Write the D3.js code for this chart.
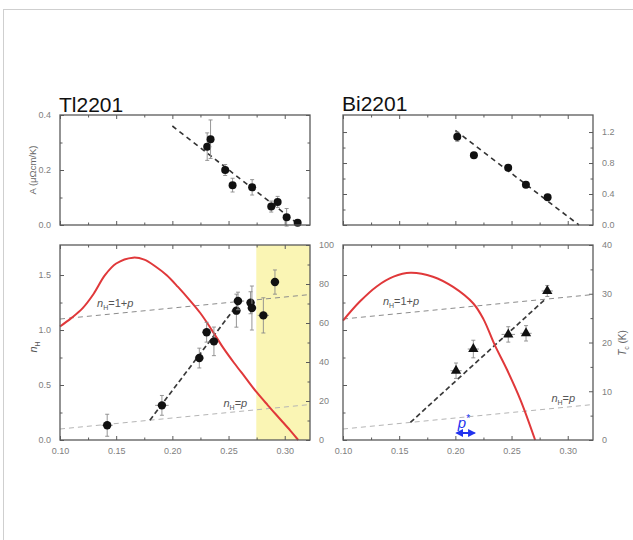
<!DOCTYPE html>
<html><head><meta charset="utf-8">
<script src="https://cdn.jsdelivr.net/npm/d3@7/dist/d3.min.js"></script>
<style>body{margin:0;background:#fff}svg{display:block}</style>
</head><body>
<svg id="c" width="633" height="540"></svg>
<script>
// ---- data ----
const pTicks = [0.10, 0.15, 0.20, 0.25, 0.30];
const pTickLabels = ["0.10", "0.15", "0.20", "0.25", "0.30"];

// Tl2201 A coefficient
const tlA_p   = [0.231, 0.234, 0.247, 0.2536, 0.271, 0.288, 0.2937, 0.3017, 0.3115];
const tlA_val = [0.285, 0.312, 0.200, 0.145, 0.137, 0.067, 0.084, 0.028, 0.008];
const tlA_err = [0.05, 0.07, 0.02, 0.025, 0.028, 0.02, 0.02, 0.032, 0.005];
const tlA_fitP = [0.200, 0.310];
const tlA_fitV = [0.360, 0.010];
const tlA_ticks = [0.0, 0.2, 0.4];

// Bi2201 A coefficient
const biA_p   = [0.2017, 0.2165, 0.247, 0.2628, 0.2821];
const biA_val = [1.14, 0.90, 0.74, 0.52, 0.357];
const biA_err = [0.06, 0.03, 0.03, 0.03, 0.03];
const biA_fitP = [0.200, 0.310];
const biA_fitV = [1.22, 0.00];
const biA_ticks = [0.0, 0.4, 0.8, 1.2];

// Tl2201 n_H
const tlN_p  = [0.142, 0.1907, 0.224, 0.2305, 0.237, 0.257, 0.2584, 0.2696, 0.2708, 0.281, 0.2913];
const tlN_v  = [0.134, 0.315, 0.745, 0.98, 0.897, 1.176, 1.264, 1.248, 1.20, 1.133, 1.436];
const tlN_ey = [0.10, 0.09, 0.09, 0.09, 0.13, 0.15, 0.08, 0.10, 0.20, 0.16, 0.11];
const tlN_ex = [0.005, 0.006, 0.004, 0.004, 0.004, 0.004, 0.004, 0.004, 0.004, 0.005, 0.004];
const tlCrossP = [0.18, 0.26];
const tlCrossN = [0.18, 1.26];
const tlOverdoped = [0.2747, 0.3225];

// Tl2201 Tc dome
const tlTc_p = [0.100, 0.110, 0.120, 0.130, 0.140, 0.150, 0.165, 0.175, 0.185, 0.195, 0.205, 0.215, 0.225, 0.235, 0.245, 0.255, 0.265, 0.275, 0.285, 0.295, 0.305, 0.312];
const tlTc_v = [58.2, 62.5, 67.5, 75, 84.5, 90.5, 93.5, 92.5, 89, 84.5, 78.5, 72, 65, 56.5, 47.5, 39.5, 32, 24.5, 17.8, 11.3, 4.8, 0];

// Bi2201 n_H
const biN_p  = [0.2006, 0.216, 0.2471, 0.2629, 0.2818];
const biN_v  = [0.63, 0.827, 0.96, 0.97, 1.355];
const biN_ey = [0.07, 0.08, 0.07, 0.07, 0.05];
const biN_ex = [0.005, 0.005, 0.006, 0.005, 0.005];
const biCrossP = [0.16, 0.28];
const biCrossN = [0.16, 1.28];

// Bi2201 Tc dome
const biTc_p = [0.100, 0.115, 0.130, 0.145, 0.160, 0.180, 0.198, 0.216, 0.225, 0.235, 0.246, 0.258, 0.271];
const biTc_v = [24.5, 28.4, 31.5, 33.5, 34.3, 33.5, 31.4, 28.0, 24.8, 19.5, 14.4, 8.2, 0];

// p* marker
const pStarRange = [0.2013, 0.217];

// n_H reference lines (value = 1+p and value = p)
const refP = [0.10, 0.3225];
const ref1pN = [1.10, 1.3225];
const refpN  = [0.10, 0.3225];

const nTicks = [0.0, 0.5, 1.0, 1.5];
const tlTcTicks = [0, 20, 40, 60, 80, 100];
const biTcTicks = [0, 10, 20, 30, 40];

// ---- drawing ----
const svg = d3.select("#c");
const FONT = "'Liberation Sans', Arial, sans-serif";
svg.append("rect").attr("x", 3.5).attr("y", 9.5).attr("width", 700).attr("height", 600)
  .attr("fill", "none").attr("stroke", "#cfcfcf");

const P0 = 0.10, P1 = 0.3225;
const xL = d3.scaleLinear().domain([P0, P1]).range([60, 310]);
const xR = d3.scaleLinear().domain([P0, P1]).range([343, 593]);

const TOP0 = 115, TOP1 = 225, BOT0 = 245, BOT1 = 440;
const yTlA = d3.scaleLinear().domain([0, 0.4]).range([TOP1, TOP0]);
const yBiA = d3.scaleLinear().domain([0, 1.42]).range([TOP1, TOP0]);
const yN   = d3.scaleLinear().domain([0, 1.773]).range([BOT1, BOT0]);
const yTlTc = d3.scaleLinear().domain([0, 100]).range([BOT1, BOT0]);
const yBiTc = d3.scaleLinear().domain([0, 40]).range([BOT1, BOT0]);

const axisColor = "#5a5a5a", labColor = "#808080";

function box(x, y) {
  svg.append("rect").attr("x", x.range()[0]).attr("y", y.range()[1])
    .attr("width", x.range()[1] - x.range()[0]).attr("height", y.range()[0] - y.range()[1])
    .attr("fill", "none").attr("stroke", axisColor).attr("stroke-width", 1.3);
}
function styleAxis(g) {
  g.select(".domain").remove();
  g.selectAll(".tick line").attr("stroke", axisColor).attr("stroke-width", 1);
  g.selectAll(".tick text").attr("fill", labColor).style("font-family", FONT).style("font-size", "9px");
}
function minors(ticks) {
  const out = [];
  for (let i = 0; i < ticks.length - 1; i++) out.push((ticks[i] + ticks[i + 1]) / 2);
  return out;
}
function xAxes(x, y, labels) {
  const minorP = minors(pTicks).concat([0.325]).filter(v => v <= P1);
  const b = svg.append("g").attr("transform", `translate(0,${y.range()[0]})`)
    .call(d3.axisBottom(x).tickValues(pTicks).tickSize(-4).tickPadding(8)
      .tickFormat((d, i) => labels ? pTickLabels[i] : ""));
  styleAxis(b);
  const bm = svg.append("g").attr("transform", `translate(0,${y.range()[0]})`)
    .call(d3.axisBottom(x).tickValues(minorP).tickSize(-2.5).tickFormat(""));
  styleAxis(bm);
  const t = svg.append("g").attr("transform", `translate(0,${y.range()[1]})`)
    .call(d3.axisTop(x).tickValues(pTicks).tickSize(-4).tickFormat(""));
  styleAxis(t);
  const tm = svg.append("g").attr("transform", `translate(0,${y.range()[1]})`)
    .call(d3.axisTop(x).tickValues(minorP).tickSize(-2.5).tickFormat(""));
  styleAxis(tm);
}
function yAxis(x, y, ticks, side, labels, fmt) {
  const pos = side === "left" ? x.range()[0] : x.range()[1];
  const mk = side === "left" ? d3.axisLeft : d3.axisRight;
  const g = svg.append("g").attr("transform", `translate(${pos},0)`)
    .call(mk(y).tickValues(ticks).tickSize(-4).tickPadding(9)
      .tickFormat(labels ? fmt : () => ""));
  styleAxis(g);
  const gm = svg.append("g").attr("transform", `translate(${pos},0)`)
    .call(mk(y).tickValues(minors(ticks)).tickSize(-2.5).tickFormat(""));
  styleAxis(gm);
}
function errPoints(x, y, ps, vs, ey, ex, shape, r) {
  const g = svg.append("g");
  ps.forEach((p, i) => {
    const cx = x(p), cy = y(vs[i]);
    const e = ey[i];
    g.append("line").attr("x1", cx).attr("x2", cx).attr("y1", y(vs[i] - e)).attr("y2", y(vs[i] + e))
      .attr("stroke", "#8a8a8a").attr("stroke-width", 0.9);
    [vs[i] - e, vs[i] + e].forEach(v => g.append("line").attr("x1", cx - 2).attr("x2", cx + 2)
      .attr("y1", y(v)).attr("y2", y(v)).attr("stroke", "#8a8a8a").attr("stroke-width", 0.9));
    if (ex) {
      g.append("line").attr("x1", x(p - ex[i])).attr("x2", x(p + ex[i])).attr("y1", cy).attr("y2", cy)
        .attr("stroke", "#8a8a8a").attr("stroke-width", 0.9);
    }
    if (shape === "tri") {
      g.append("path").attr("d", d3.symbol(d3.symbolTriangle, r * r * 2.6)())
        .attr("transform", `translate(${cx},${cy})`).attr("fill", "#111");
    } else {
      g.append("circle").attr("cx", cx).attr("cy", cy).attr("r", r).attr("fill", "#111");
    }
  });
}
function dashLine(x, y, ps, vs, color, w, dash) {
  svg.append("path").datum(ps.map((p, i) => [p, vs[i]]))
    .attr("d", d3.line().x(d => x(d[0])).y(d => y(d[1])))
    .attr("fill", "none").attr("stroke", color).attr("stroke-width", w).attr("stroke-dasharray", dash);
}
function redCurve(x, y, ps, vs) {
  svg.append("path").datum(ps.map((p, i) => [p, vs[i]]))
    .attr("d", d3.line().x(d => x(d[0])).y(d => y(d[1])).curve(d3.curveCatmullRom.alpha(0.5)))
    .attr("fill", "none").attr("stroke", "#e0383a").attr("stroke-width", 2);
}
function nLabel(x, y, xv, yv, rhs, anchor) {
  const t = svg.append("text").attr("x", x(xv)).attr("y", y(yv)).attr("fill", "#555")
    .style("font-family", FONT).style("font-size", "11px");
  t.append("tspan").attr("font-style", "italic").text("n");
  t.append("tspan").attr("font-size", "7px").attr("dy", 3).text("H");
  t.append("tspan").attr("dy", -3).text("=" + rhs.replace("p", ""));
  t.append("tspan").attr("font-style", "italic").text("p");
}

// titles
svg.append("text").attr("x", 59).attr("y", 112).text("Tl2201")
  .style("font-family", FONT).style("font-size", "21px").attr("fill", "#111");
svg.append("text").attr("x", 342).attr("y", 111).text("Bi2201")
  .style("font-family", FONT).style("font-size", "21px").attr("fill", "#111");

// ---- top-left: Tl2201 A ----
xAxes(xL, yTlA, false);
yAxis(xL, yTlA, tlA_ticks, "left", true, d3.format(".1f"));
yAxis(xL, yTlA, tlA_ticks, "right", false);
dashLine(xL, yTlA, tlA_fitP, tlA_fitV, "#333", 1.6, "5,4");
errPoints(xL, yTlA, tlA_p, tlA_val, tlA_err, null, "circle", 4);
box(xL, yTlA);
svg.append("text").attr("transform", "translate(36,170) rotate(-90)").attr("text-anchor", "middle")
  .style("font-family", FONT).style("font-size", "9.5px").attr("fill", "#666").text("A (μΩcm/K)");

// ---- top-right: Bi2201 A ----
xAxes(xR, yBiA, false);
yAxis(xR, yBiA, biA_ticks, "left", false);
yAxis(xR, yBiA, biA_ticks, "right", true, d3.format(".1f"));
dashLine(xR, yBiA, biA_fitP, biA_fitV, "#333", 1.6, "5,4");
errPoints(xR, yBiA, biA_p, biA_val, biA_err, null, "circle", 4);
box(xR, yBiA);

// ---- bottom-left: Tl2201 n_H ----
svg.append("rect").attr("x", xL(tlOverdoped[0])).attr("y", BOT0)
  .attr("width", xL(tlOverdoped[1]) - xL(tlOverdoped[0])).attr("height", BOT1 - BOT0)
  .attr("fill", "#faf5b4");
xAxes(xL, yN, true);
yAxis(xL, yN, nTicks, "left", true, d3.format(".1f"));
yAxis(xL, yTlTc, tlTcTicks, "right", true, d3.format("d"));
dashLine(xL, yN, refP, ref1pN, "#8c8c8c", 1, "5,4");
dashLine(xL, yN, refP, refpN, "#b5b5b5", 1, "5,4");
dashLine(xL, yN, tlCrossP, tlCrossN, "#3a3a3a", 1.7, "5,3");
redCurve(xL, yTlTc, tlTc_p, tlTc_v);
errPoints(xL, yN, tlN_p, tlN_v, tlN_ey, tlN_ex, "circle", 4.2);
box(xL, yN);
nLabel(xL, yN, 0.133, 1.205, "1+p");
nLabel(xL, yN, 0.2455, 0.30, "p");
const nh = svg.append("text").attr("transform", "translate(37,347) rotate(-90)").attr("text-anchor", "middle")
  .style("font-family", FONT).style("font-size", "11px").attr("fill", "#555");
nh.append("tspan").attr("font-style", "italic").text("n");
nh.append("tspan").attr("font-size", "7px").attr("dy", 3).text("H");

// ---- bottom-right: Bi2201 n_H ----
xAxes(xR, yN, true);
yAxis(xR, yN, nTicks, "left", false);
yAxis(xR, yBiTc, biTcTicks, "right", true, d3.format("d"));
dashLine(xR, yN, refP, ref1pN, "#8c8c8c", 1, "5,4");
dashLine(xR, yN, refP, refpN, "#b5b5b5", 1, "5,4");
dashLine(xR, yN, biCrossP, biCrossN, "#3a3a3a", 1.7, "5,3");
redCurve(xR, yBiTc, biTc_p, biTc_v);
errPoints(xR, yN, biN_p, biN_v, biN_ey, biN_ex, "tri", 4.2);
box(xR, yN);
nLabel(xR, yN, 0.1355, 1.225, "1+p");
nLabel(xR, yN, 0.2855, 0.35, "p");

// p* arrow
const blue = "#2233ee";
const ay = 433;
svg.append("defs").html(`<marker id="ah" viewBox="0 0 10 10" refX="8" refY="5" markerWidth="4" markerHeight="4" orient="auto-start-reverse"><path d="M0,0L10,5L0,10z" fill="${blue}"/></marker>`);
svg.append("line").attr("x1", xR(pStarRange[0])).attr("x2", xR(pStarRange[1])).attr("y1", ay).attr("y2", ay)
  .attr("stroke", blue).attr("stroke-width", 2).attr("marker-start", "url(#ah)").attr("marker-end", "url(#ah)");
const ps = svg.append("text").attr("x", xR(pStarRange[0]) + 1).attr("y", 428).attr("fill", blue)
  .style("font-family", FONT).style("font-size", "15px");
ps.append("tspan").attr("font-style", "italic").text("p");
ps.append("tspan").attr("font-size", "10px").attr("dy", -6).text("*");

// Tc label
const tc = svg.append("text").attr("transform", "translate(626,343) rotate(-90)").attr("text-anchor", "middle")
  .style("font-family", FONT).style("font-size", "10px").attr("fill", "#666");
tc.append("tspan").attr("font-style", "italic").text("T");
tc.append("tspan").attr("font-size", "7px").attr("dy", 3).text("c");
tc.append("tspan").attr("dy", -3).text(" (K)");
</script>
</body></html>
